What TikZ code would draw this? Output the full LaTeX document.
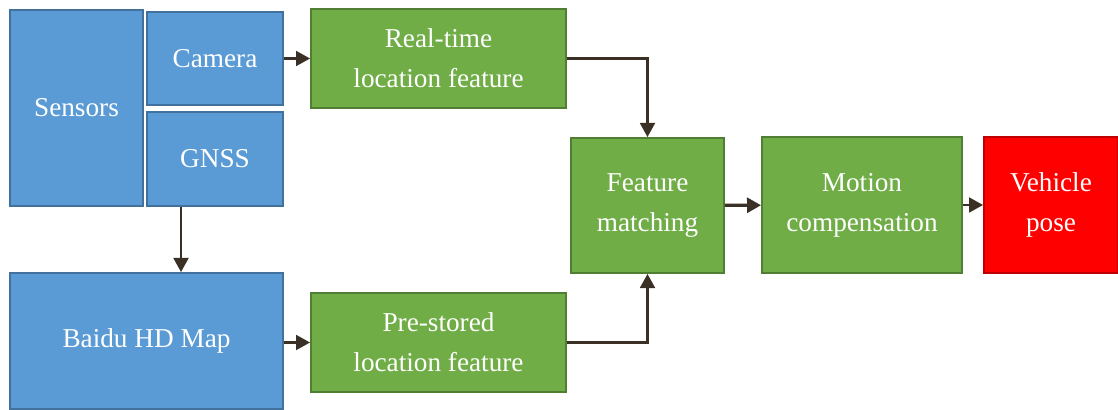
\documentclass[tikz,border=0pt]{standalone}
\usepackage{fontspec}
\setmainfont{Liberation Serif}
\usetikzlibrary{arrows.meta}
\definecolor{bluefill}{HTML}{5B9BD5}
\definecolor{blueline}{HTML}{41719C}
\definecolor{greenfill}{HTML}{70AD47}
\definecolor{greenline}{HTML}{507E32}
\definecolor{redfill}{HTML}{FF0000}
\definecolor{redline}{HTML}{C00000}
\definecolor{arrowcol}{HTML}{3A3026}
\begin{document}
\begin{tikzpicture}[x=0.02cm,y=0.02cm]
\tikzstyle{bx} = [rectangle,line width=1.1pt,text=white,align=center,inner sep=0pt,
  font=\fontsize{15.5}{22.8}\selectfont] %box
\tikzstyle{sb} = [bx,fill=bluefill,draw=blueline] %sensor box
\tikzstyle{gb} = [bx,fill=greenfill,draw=greenline] %processing box
\tikzstyle{rb} = [bx,fill=redfill,draw=redline] %result box
\tikzstyle{de} = [-{Triangle[length=8pt,width=8.5pt]},line width=1.2pt,draw=arrowcol] %directed edge
\useasboundingbox (0,0) rectangle (1118,409);
\node[sb,minimum width=2.66cm,minimum height=3.92cm](sen)at(76.5,301){Sensors};
\node[sb,minimum width=2.72cm,minimum height=1.86cm](cam)at(215,350.5){Camera};
\node[sb,minimum width=2.72cm,minimum height=1.88cm](gnss)at(215,250){GNSS};
\node[sb,minimum width=5.46cm,minimum height=2.72cm](map)at(146.5,68){Baidu HD Map};
\node[gb,minimum width=5.1cm,minimum height=1.98cm](rt)at(438.5,350.5){Real-time\\location feature};
\node[gb,minimum width=5.1cm,minimum height=1.98cm](ps)at(438.5,66.5){Pre-stored\\location feature};
\node[gb,minimum width=3.06cm,minimum height=2.7cm](fm)at(647.5,203.5){Feature\\matching};
\node[gb,minimum width=4cm,minimum height=2.72cm](mc)at(862,204){Motion\\compensation};
\node[rb,minimum width=2.68cm,minimum height=2.72cm](vp)at(1051,204){Vehicle\\pose};
\coordinate(gout)at([xshift=-0.68cm]gnss.south);
\draw[de](cam)--(rt);
\draw[de](gout)--(gout |- map.north);
\draw[de](map.east |- ps)--(ps);
\draw[de](rt.east)-|(fm.north);
\draw[de](ps.east)-|(fm.south);
\draw[de,line width=1.8pt](fm)--(mc);
\draw[de](mc)--(vp);
\end{tikzpicture}
\end{document}
